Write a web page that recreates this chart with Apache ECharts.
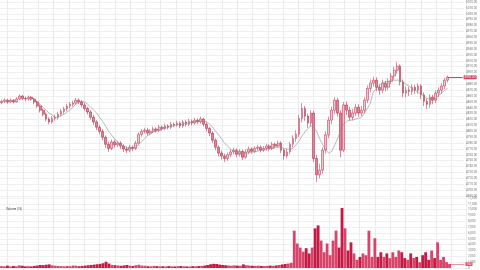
<!DOCTYPE html>
<html><head><meta charset="utf-8">
<script src="https://cdn.jsdelivr.net/npm/echarts@6/dist/echarts.min.js"></script>
<style>html,body{margin:0;padding:0;background:#fff}#c{width:480px;height:270px}</style>
</head><body><div id="c"></div>
<script>
const opens = [
4849,4851,4853,4850,4853,4850,4855,4860,4856,4855,
4858,4855,4850,4843,4836,4829,4821,4816,4822,4824,
4829,4834,4838,4843,4846,4848,4853,4850,4845,4839,
4833,4824,4816,4807,4800,4790,4778,4771,4782,4777,
4780,4775,4770,4768,4773,4771,4780,4795,4800,4802,
4797,4800,4804,4802,4807,4805,4809,4807,4812,4811,
4814,4809,4816,4812,4817,4814,4819,4816,4821,4812,
4805,4797,4785,4773,4763,4758,4754,4760,4765,4768,
4761,4766,4756,4765,4770,4766,4771,4773,4768,4771,
4775,4771,4778,4775,4780,4768,4758,4765,4778,4788,
4795,4822,4839,4826,4814,4831,4754,4726,4734,4768,
4794,4819,4836,4853,4831,4768,4845,4836,4824,4831,
4841,4831,4836,4853,4873,4882,4887,4875,4870,4882,
4875,4885,4894,4904,4911,4884,4865,4870,4868,4875,
4870,4877,4862,4851,4846,4858,4853,4865,4870,4877,
4887];
const closes = [
4851,4853,4850,4853,4850,4855,4860,4856,4855,4858,
4855,4850,4843,4836,4829,4821,4816,4822,4824,4829,
4834,4838,4843,4846,4848,4853,4850,4845,4839,4833,
4824,4816,4807,4800,4790,4778,4771,4782,4777,4780,
4775,4770,4768,4773,4771,4780,4795,4800,4802,4797,
4800,4804,4802,4807,4805,4809,4807,4812,4811,4814,
4809,4816,4812,4817,4814,4819,4816,4821,4812,4805,
4797,4785,4773,4763,4758,4754,4760,4765,4768,4761,
4766,4756,4765,4770,4766,4771,4773,4768,4771,4775,
4771,4778,4775,4780,4768,4758,4765,4778,4788,4795,
4822,4839,4826,4814,4831,4754,4726,4734,4768,4794,
4819,4836,4853,4831,4768,4845,4836,4824,4831,4841,
4831,4836,4853,4873,4882,4887,4875,4870,4882,4875,
4885,4894,4904,4911,4884,4865,4870,4868,4875,4870,
4877,4862,4851,4846,4858,4853,4865,4870,4877,4887,
4892];
const lows = [
4846,4848,4847,4848,4847,4849,4853,4853,4851,4852,
4852,4846,4840,4832,4825,4817,4812,4813,4818,4820,
4826,4830,4835,4839,4842,4845,4846,4841,4835,4829,
4820,4811,4802,4795,4785,4772,4765,4768,4772,4773,
4770,4765,4763,4764,4766,4768,4777,4791,4796,4793,
4794,4797,4798,4799,4801,4802,4803,4804,4807,4808,
4805,4806,4808,4809,4810,4811,4812,4813,4808,4800,
4792,4780,4768,4757,4752,4748,4750,4756,4761,4756,
4757,4751,4753,4761,4762,4763,4767,4764,4765,4767,
4767,4768,4771,4772,4763,4752,4754,4761,4773,4782,
4790,4815,4818,4806,4808,4748,4714,4720,4728,4762,
4788,4812,4830,4825,4756,4765,4828,4818,4819,4826,
4825,4826,4830,4848,4866,4876,4868,4862,4865,4868,
4870,4880,4888,4898,4878,4858,4858,4860,4862,4864,
4864,4855,4843,4838,4840,4846,4848,4858,4864,4872,
4883];
const highs = [
4854,4856,4855,4856,4855,4858,4863,4862,4859,4861,
4860,4857,4852,4846,4839,4832,4824,4826,4828,4833,
4838,4842,4847,4850,4852,4857,4856,4853,4848,4842,
4836,4828,4819,4811,4804,4793,4782,4786,4786,4784,
4783,4778,4774,4777,4776,4784,4798,4804,4806,4806,
4804,4808,4807,4811,4810,4813,4812,4816,4815,4818,
4817,4819,4819,4821,4820,4823,4822,4825,4823,4815,
4808,4800,4788,4776,4767,4762,4764,4769,4772,4771,
4770,4769,4769,4774,4773,4775,4777,4776,4775,4779,
4778,4782,4781,4784,4783,4771,4770,4782,4793,4802,
4828,4848,4843,4830,4836,4835,4760,4745,4773,4800,
4825,4842,4858,4857,4836,4850,4851,4842,4838,4847,
4846,4843,4858,4878,4888,4893,4892,4880,4888,4886,
4890,4899,4910,4918,4914,4888,4876,4876,4880,4879,
4882,4880,4866,4856,4863,4862,4870,4875,4882,4891,
4895];
const ma15 = [
null,null,null,null,null,null,null,null,null,null,
4856,4855,4851,4846,4841,4836,4831,4828,4824,4824,
4826,4829,4833,4836,4841,4846,4850,4851,4850,4846,
4841,4836,4831,4824,4817,4809,4800,4794,4787,4782,
4778,4775,4773,4771,4771,4773,4777,4782,4787,4792,
4795,4799,4800,4802,4804,4805,4807,4809,4809,4811,
4812,4812,4814,4814,4816,4816,4817,4817,4817,4816,
4812,4807,4800,4794,4787,4780,4775,4770,4766,4765,
4763,4763,4763,4763,4765,4765,4766,4768,4768,4770,
4771,4771,4773,4773,4773,4771,4770,4770,4771,4777,
4783,4792,4799,4805,4809,4807,4799,4787,4777,4768,
4763,4766,4777,4788,4802,4812,4817,4819,4819,4821,
4822,4824,4831,4839,4848,4867,4873,4878,4882,4884,
4885,4887,4887,4887,4887,4884,4880,4877,4873,4870,
4867,4863,4860,4856,4855,4855,4856,4862,4865,4870,
4873];
const volumes = [
320,280,410,260,350,300,450,380,290,330,
270,360,420,510,480,560,620,450,390,340,
310,280,350,300,420,380,290,360,410,470,
520,580,640,700,820,1070,760,540,480,430,
380,450,520,400,350,470,560,420,380,310,
290,350,320,280,300,260,330,290,270,310,
340,300,280,260,310,290,330,360,420,510,
640,720,680,590,520,470,430,390,450,410,
380,620,470,420,380,360,400,350,330,370,
410,380,440,520,610,690,760,880,6400,4200,
3500,2800,3400,2500,3500,6800,7300,4700,2700,4200,
2200,4700,6400,3500,10300,6800,3000,4400,2500,1400,
1900,2500,2200,6400,1900,5100,1900,2700,1900,2500,
1700,2700,1900,3000,2700,1700,1400,2500,1700,1900,
1000,2200,2700,1400,3000,1700,4400,1400,1900,1000,
700];
const slotCount = 156;
const volumeTitle = 'Volume (15)';

const cats = [];
for (let i = 0; i < slotCount; i++) cats.push(String(i));
const ohlc = opens.map((o, i) => [o, closes[i], lows[i], highs[i]]);
const volData = volumes.map((v, i) => ({
  value: v,
  itemStyle: { color: closes[i] >= opens[i] ? '#d8456b' : '#c41a44' }
}));
const last = closes.length - 1;
const gridLine = { show: true, lineStyle: { color: '#f0f0f0', width: 1 } };
const lbl = { fontSize: 3, color: '#777', margin: 2, fontFamily: 'Roboto' };

const chart = echarts.init(document.getElementById('c'), null, { renderer: 'canvas' });
chart.setOption({
  animation: false,
  backgroundColor: '#ffffff',
  title: { text: volumeTitle, left: 1, top: 203, textStyle: { fontSize: 3, color: '#444', fontWeight: 'normal', fontFamily: 'Roboto' } },
  grid: [
    { left: 0, right: 12, top: 2, height: 194 },
    { left: 0, right: 12, top: 198, height: 70 },
    { left: 7.65, width: 459, top: 0, height: 270 }
  ],
  xAxis: [
    { type: 'category', gridIndex: 0, data: cats, boundaryGap: true, axisLine: { show: false }, axisTick: { show: false }, axisLabel: { show: false }, splitLine: { show: false } },
    { type: 'category', gridIndex: 1, data: cats, boundaryGap: true, axisLine: { show: false }, axisTick: { show: false }, axisLabel: { show: false }, splitLine: { show: false } },
    { type: 'value', gridIndex: 2, min: 0, max: 459, interval: 15.3, axisLine: { show: false }, axisTick: { show: false }, axisLabel: { show: false }, splitLine: { show: true, lineStyle: { color: '#ebebeb', width: 1 } } }
  ],
  yAxis: [
    { type: 'value', gridIndex: 0, position: 'right', min: 4690, max: 5020, interval: 10, axisLine: { show: false }, axisTick: { show: false },
      axisLabel: Object.assign({ formatter: v => v.toFixed(2) }, lbl), splitLine: gridLine },
    { type: 'value', gridIndex: 1, position: 'right', min: 0, max: 12000, interval: 1000, axisLine: { show: false }, axisTick: { show: false },
      axisLabel: lbl, splitLine: gridLine },
    { type: 'value', gridIndex: 2, min: 0, max: 1, show: false, splitLine: { show: false } }
  ],
  series: [
    { type: 'line', xAxisIndex: 2, yAxisIndex: 2, data: [], silent: true },
    { type: 'candlestick', xAxisIndex: 0, yAxisIndex: 0, data: ohlc, barWidth: '75%',
      itemStyle: { color: '#f7c2cc', color0: '#e97e94', borderColor: '#b02a46', borderColor0: '#9c1f3a', borderWidth: 0.5 },
      markLine: { symbol: ['none', 'none'], silent: true, animation: false,
        data: [[{ coord: [last, closes[last]] }, { coord: [slotCount - 1, closes[last]] }]],
        lineStyle: { color: '#d4405f', width: 1, type: 'solid' },
        label: { show: true, position: 'end', distance: 1, formatter: () => closes[last].toFixed(2), backgroundColor: '#d4405f', color: '#fff', fontSize: 3, padding: [0.5, 1] } } },
    { type: 'line', xAxisIndex: 0, yAxisIndex: 0, data: ma15, showSymbol: false, symbol: 'none', connectNulls: false,
      lineStyle: { color: '#8a8a8a', width: 0.6 },
      markLine: { symbol: ['none', 'none'], silent: true, animation: false,
        data: [[{ coord: [last, ma15[last]] }, { coord: [slotCount - 1, ma15[last]] }]],
        lineStyle: { opacity: 0 },
        label: { show: true, position: 'end', distance: 1, formatter: () => ma15[last].toFixed(2), backgroundColor: '#333', color: '#fff', fontSize: 3, padding: [0.5, 1] } } },
    { type: 'bar', xAxisIndex: 1, yAxisIndex: 1, data: volData, barWidth: '95%',
      markLine: { symbol: ['none', 'none'], silent: true, animation: false,
        data: [[{ coord: [last, volumes[last]] }, { coord: [slotCount - 1, volumes[last]] }]],
        lineStyle: { color: '#e04a6e', width: 0.6, type: 'solid' },
        label: { show: true, position: 'end', distance: 1, formatter: () => String(volumes[last]), backgroundColor: '#e04a6e', color: '#fff', fontSize: 3, padding: [0.5, 1] } } }
  ]
});
</script></body></html>
